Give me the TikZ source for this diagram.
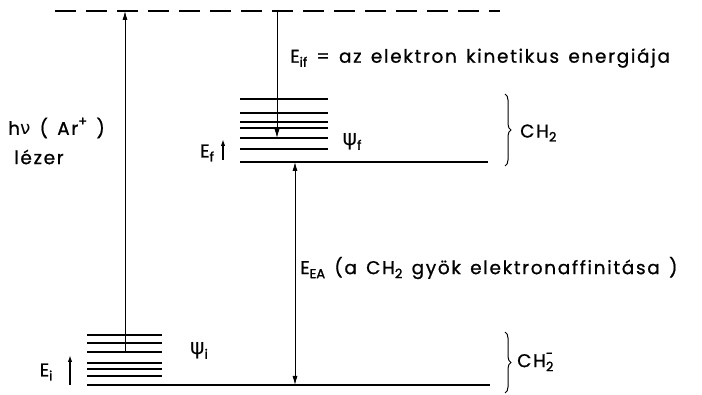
\documentclass[tikz,border=0pt]{standalone}
\usepackage{fontspec}
\setmainfont{Poppins}[LetterSpace=9,WordSpace=1.4,FakeBold=0.8]
\newfontfamily\grk{DejaVu Sans}
\usetikzlibrary{arrows.meta,decorations.pathreplacing}
\newcommand\lsub[1]{\raisebox{-0.4ex}{\fontsize{13}{13}\selectfont\addfontfeatures{LetterSpace=0,FakeBold=1.6}#1}}
\newcommand\lsup[1]{\raisebox{0.9ex}{\fontsize{13}{13}\selectfont\addfontfeatures{LetterSpace=0,FakeBold=1.6}#1}}
\newcommand\psig{{\grk\fontsize{22}{22}\selectfont ψ}}
\begin{document}
\begin{tikzpicture}[x=1pt,y=-1pt,
  level/.style={line width=1.3pt},
  arr/.style={-{Latex[length=9pt,width=5pt]}, line width=0.8pt},
  darr/.style={{Latex[length=9pt,width=5pt]}-{Latex[length=9pt,width=5pt]}, line width=0.8pt},
  sarr/.style={-{Latex[length=7pt,width=4.5pt]}, line width=1.4pt},
  lbl/.style={font=\fontsize{18.5}{22}\selectfont, inner sep=0pt},
  brc/.style={decorate, decoration={brace, amplitude=6pt}, line width=1pt}]
\useasboundingbox (0,0) rectangle (702,395);
% dashed ionisation level
\coordinate (dl) at (55,11); \coordinate (dr) at (500,11);
\draw[level, dash pattern=on 21pt off 10pt] (dl) -- (dr);
% upper stack (CH2)
\foreach \y in {99,113,122,128,138,149} \draw[level] (240,\y) -- (328,\y);
\coordinate (fl) at (240,162); \coordinate (fr) at (488,162);
\draw[level] (fl) -- (fr);
% lower stack (CH2-)
\foreach \y in {335,343,352,363,369,376} \draw[level] (87,\y) -- (162,\y);
\coordinate (il) at (87,385); \coordinate (ir) at (490,385);
\draw[level] (il) -- (ir);
% arrows
\coordinate (laserB) at (125,352); \coordinate (laserT) at (125,11);
\draw[arr] (laserB) -- (laserT);
\coordinate (eifT) at (277,11); \coordinate (eifB) at (277,138);
\draw[arr] (eifT) -- (eifB);
\coordinate (eaT) at (295,162); \coordinate (eaB) at (295,385);
\draw[darr] (eaT) -- (eaB);
\coordinate (eiB) at (70,385); \coordinate (eiT) at (70,355);
\draw[sarr] (eiB) -- (eiT);
\coordinate (efB) at (223,160); \coordinate (efT) at (223,139);
\draw[sarr] (efB) -- (efT);
% braces
\coordinate (b1t) at (505,94); \coordinate (b1b) at (505,166);
\draw[brc] (b1t) -- (b1b);
\coordinate (b2t) at (505,332); \coordinate (b2b) at (505,393);
\draw[brc] (b2t) -- (b2b);
% labels
\node[lbl, anchor=west] (hv) at (8,128) {h{\grk ν} ( Ar\lsup{+} )};
\node[lbl, anchor=west] (lezer) at (14,157) {lézer};
\node[lbl, anchor=west] (eif) at (290,58) {E\lsub{if} = az elektron kinetikus energiája};
\node[lbl, anchor=west] (ch2) at (520,133) {CH\lsub{2}};
\node[lbl] (psif) at (352,142) {\psig\lsub{f}};
\node[lbl] (ef) at (207,153) {E\lsub{f}};
\node[lbl, anchor=west] (eea) at (300,268) {E\lsub{EA} (a CH\lsub{2} gyök elektronaffinitása )};
\node[lbl] (psii) at (199,351) {\psig\lsub{i}};
\node[lbl] (ei) at (46,372) {E\lsub{i}};
\node[lbl, anchor=west] (ch2m) at (517,362) {CH\rlap{\lsub{2}}\lsup{-}};
\end{tikzpicture}
\end{document}
